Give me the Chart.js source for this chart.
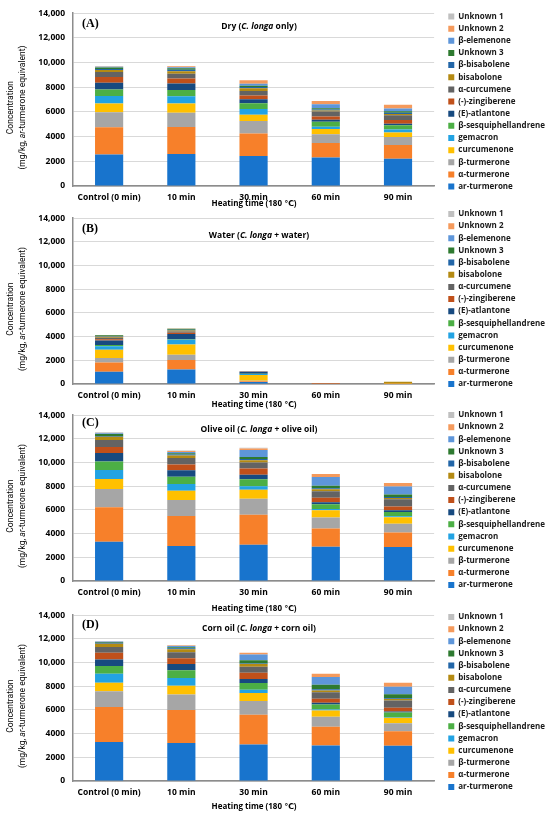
<!DOCTYPE html>
<html>
<head>
<meta charset="utf-8">
<script src="https://cdn.jsdelivr.net/npm/chart.js@4.4.1/dist/chart.umd.min.js"></script>
<style>
  html, body { margin: 0; padding: 0; background: #fff; }
  body { width: 550px; height: 818px; position: relative; overflow: hidden; }
  .panel { position: absolute; left: 0; width: 550px; }
</style>
</head>
<body>
<div class="panel" id="pA"><canvas id="cA"></canvas></div>
<div class="panel" id="pB"><canvas id="cB"></canvas></div>
<div class="panel" id="pC"><canvas id="cC"></canvas></div>
<div class="panel" id="pD"><canvas id="cD"></canvas></div>
<script>
const timeLabels = ["Control (0 min)", "10 min", "30 min", "60 min", "90 min"];

// bottom -> top of each stack
const compounds = [
  "ar-turmerone", "α-turmerone", "β-turmerone", "curcumenone", "gemacron",
  "β-sesquiphellandrene", "(E)-atlantone", "(-)-zingiberene", "α-curcumene",
  "bisabolone", "β-bisabolene", "Unknown 3", "β-elemenone", "Unknown 2", "Unknown 1"
];
const compoundColors = [
  "#1874CD", "#F7802A", "#A6A6A6", "#FFC000", "#22A3E3",
  "#4CAF45", "#174A80", "#C0501A", "#636363",
  "#B48A12", "#2266A8", "#2E7A30", "#5E96DA", "#F59A5C", "#C0C0C0"
];
const yTickValues = [0, 2000, 4000, 6000, 8000, 10000, 12000, 14000];

// mg/kg, one row per compound (same order as compounds), one column per time
const dryValues = [
  [2550, 2600, 2420, 2310, 2210],
  [2200, 2180, 1840, 1180, 1100],
  [1230, 1160, 1000, 710, 660],
  [710, 735, 500, 420, 370],
  [600, 600, 470, 185, 235],
  [525, 500, 470, 395, 340],
  [550, 525, 315, 155, 130],
  [470, 395, 315, 265, 290],
  [395, 395, 365, 420, 395],
  [155, 210, 210, 80, 105],
  [80, 105, 105, 80, 105],
  [130, 130, 105, 105, 105],
  [55, 80, 160, 315, 235],
  [25, 80, 290, 265, 290],
  [50, 25, 0, 0, 0]
];
const waterValues = [
  [1040, 1230, 170, 0, 0],
  [770, 795, 55, 20, 30],
  [385, 440, 50, 0, 0],
  [685, 875, 480, 0, 40],
  [300, 385, 80, 0, 0],
  [110, 55, 30, 0, 0],
  [385, 440, 170, 0, 0],
  [110, 110, 30, 50, 0],
  [110, 110, 20, 0, 0],
  [85, 85, 0, 0, 110],
  [55, 55, 0, 0, 0],
  [85, 85, 0, 0, 0],
  [0, 0, 0, 0, 0],
  [25, 25, 0, 0, 20],
  [0, 0, 0, 0, 0]
];
const oliveValues = [
  [3310, 2950, 3060, 2900, 2870],
  [2920, 2540, 2540, 1530, 1230],
  [1530, 1340, 1340, 930, 740],
  [850, 790, 765, 600, 550],
  [765, 575, 300, 110, 80],
  [710, 600, 575, 410, 355],
  [710, 545, 385, 165, 135],
  [520, 490, 520, 385, 330],
  [575, 545, 520, 545, 600],
  [275, 220, 190, 165, 110],
  [80, 80, 110, 80, 80],
  [165, 110, 165, 220, 220],
  [55, 110, 575, 735, 685],
  [30, 80, 135, 245, 275],
  [55, 30, 55, 0, 0]
];
const cornValues = [
  [3300, 3215, 3080, 3000, 2970],
  [2940, 2780, 2505, 1580, 1225],
  [1335, 1305, 1170, 845, 680],
  [710, 735, 680, 520, 465],
  [765, 655, 270, 80, 55],
  [655, 655, 570, 435, 380],
  [545, 520, 330, 135, 80],
  [570, 490, 520, 355, 330],
  [490, 520, 520, 545, 600],
  [270, 245, 220, 135, 135],
  [80, 80, 55, 110, 55],
  [80, 80, 275, 380, 355],
  [30, 110, 490, 655, 625],
  [30, 55, 135, 270, 330],
  [0, 30, 0, 0, 0]
];

const panels = [
  { id: "A", values: dryValues, top: 0, plotH: 178, letterDy: 11, titleDy: 13, xTitleDy: 18, legendDy: 2,
    title: [["Dry (", false], ["C. longa", true], [" only)", false]] },
  { id: "B", values: waterValues, top: 205, plotH: 171, letterDy: 11, titleDy: 17, xTitleDy: 21, legendDy: -2,
    title: [["Water (", false], ["C. longa", true], [" + water)", false]] },
  { id: "C", values: oliveValues, top: 402, plotH: 171, letterDy: 8, titleDy: 14, xTitleDy: 28, legendDy: 2,
    title: [["Olive oil (", false], ["C. longa", true], [" + olive oil)", false]] },
  { id: "D", values: cornValues, top: 602, plotH: 171, letterDy: 10, titleDy: 13, xTitleDy: 26, legendDy: 4,
    title: [["Corn oil (", false], ["C. longa", true], [" + corn oil)", false]] }
];

const sans = '"Open Sans", "DejaVu Sans", sans-serif';
const narrow = '"Liberation Sans Narrow", Roboto, sans-serif';

function partFont(p, size, weight) {
  return (p[1] ? "italic " : "") + weight + " " + size + "px " + (p[2] || sans);
}

// draws mixed upright/italic pieces centred on x
function drawParts(ctx, parts, x, y, size, weight) {
  let w = 0;
  parts.forEach(p => {
    ctx.font = partFont(p, size, weight);
    w += ctx.measureText(p[0]).width;
  });
  let cx = x - w / 2;
  ctx.textAlign = "left";
  parts.forEach(p => {
    ctx.font = partFont(p, size, weight);
    ctx.fillText(p[0], cx, y);
    cx += ctx.measureText(p[0]).width;
  });
}

// panel letter, panel title, axis titles; also re-centres the legend on the plot
const panelText = {
  id: "panelText",
  afterLayout(chart, args, opts) {
    const lg = chart.legend;
    const ca = chart.chartArea;
    const h = lg.bottom - lg.top;
    const c = (ca.top + ca.bottom) / 2 + opts.legendDy;
    lg.top = c - h / 2;
    lg.bottom = c + h / 2;
    lg.left += 10;
    lg.right += 10;
  },
  afterDraw(chart, args, opts) {
    const { ctx, chartArea } = chart;
    ctx.save();
    ctx.fillStyle = "#000";
    ctx.textBaseline = "middle";
    ctx.textAlign = "left";
    ctx.font = 'bold 12px "Liberation Serif", serif';
    ctx.fillText("(" + opts.letter + ")", chartArea.left + 9, chartArea.top + opts.letterDy);
    drawParts(ctx, opts.title, 259, chartArea.top + opts.titleDy, 8.5, "bold");
    drawParts(ctx, [["Heating time (180 ℃)", false]], 254, chartArea.bottom + opts.xTitleDy, 8, "bold");

    const midY = (chartArea.top + chartArea.bottom) / 2 + 8;
    ctx.translate(11, midY);
    ctx.rotate(-Math.PI / 2);
    drawParts(ctx, [["Concentration", false, narrow]], 0, 0, 8.5, "normal");
    drawParts(ctx, [["(mg/kg, ", false, narrow], ["ar", true, narrow], ["-turmerone equivalent)", false, narrow]], 0, 12, 8.5, "normal");
    ctx.restore();
  }
};

panels.forEach(p => {
  const wrap = document.getElementById("p" + p.id);
  wrap.style.top = p.top + "px";
  wrap.style.height = (p.plotH + 44) + "px";

  new Chart(document.getElementById("c" + p.id), {
    type: "bar",
    data: {
      labels: timeLabels,
      datasets: compounds.map((name, i) => ({
        label: name,
        data: p.values[i],
        backgroundColor: compoundColors[i],
        borderWidth: 0,
        barPercentage: 0.39,
        categoryPercentage: 1
      }))
    },
    options: {
      responsive: true,
      maintainAspectRatio: false,
      animation: false,
      layout: { padding: { top: 8, bottom: 16, left: 0, right: 5 } },
      plugins: {
        legend: {
          position: "right",
          reverse: true,
          labels: {
            boxWidth: 6,
            boxHeight: 6,
            padding: 4.15,
            color: "#1a1a1a",
            font: { family: sans, size: 8, weight: "bold" }
          }
        },
        tooltip: { enabled: false },
        panelText: {
          letter: p.id, title: p.title, letterDy: p.letterDy, titleDy: p.titleDy,
          xTitleDy: p.xTitleDy, legendDy: p.legendDy
        }
      },
      scales: {
        x: {
          stacked: true,
          grid: { display: false, drawTicks: false },
          border: { color: "#8C8C8C", width: 1.5 },
          ticks: { color: "#000", padding: 6, maxRotation: 0, font: { family: sans, size: 8.5, weight: "bold" } },
          afterFit: s => { s.height = 20; }
        },
        y: {
          stacked: true,
          min: 0,
          max: 14000,
          afterBuildTicks: s => { s.ticks = yTickValues.map(v => ({ value: v })); },
          grid: { color: "#D9D9D9", lineWidth: 1, drawTicks: false },
          border: { color: "#8C8C8C", width: 1.5 },
          ticks: {
            color: "#000",
            padding: 8,
            font: { family: sans, size: 8.5, weight: "bold" },
            callback: v => v >= 10000 ? v.toLocaleString("en-US") : String(v)
          },
          afterFit: s => { s.width = 73; }
        }
      }
    },
    plugins: [panelText]
  });
});
</script>
</body>
</html>
